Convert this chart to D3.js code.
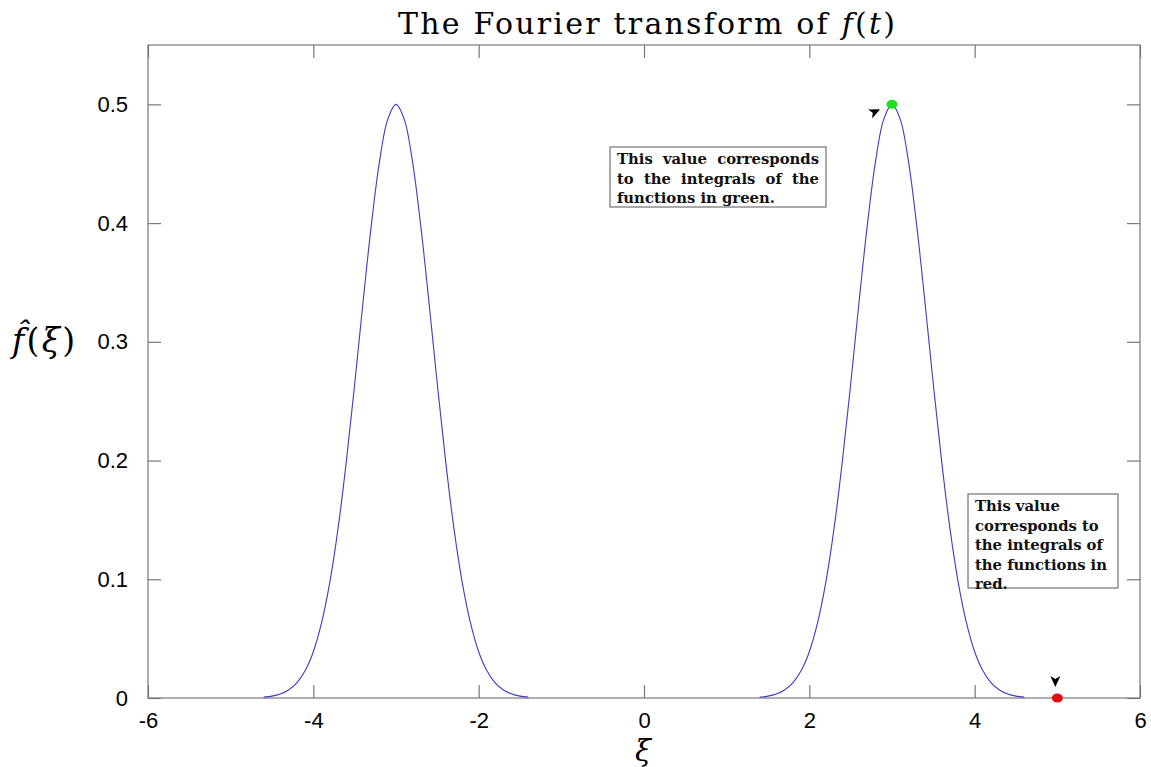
<!DOCTYPE html>
<html>
<head>
<meta charset="UTF-8">
<title>The Fourier transform of f(t)</title>
<script src="https://d3js.org/d3.v7.min.js"></script>
<style>
    body { margin: 0; background: #fff; }
    .tick text { font-family: "Liberation Sans", Arial, sans-serif; font-size: 22px; fill: #000; }
    .serif { font-family: "DejaVu Serif", serif; }
    .note { font-family: "DejaVu Serif", serif; font-size: 14.8px; font-weight: bold; fill: #111; }
</style>
</head>
<body>
<svg width="1151" height="767"></svg>
<script>
// offsets from the peak centre
const offsets = [-1.6, -1.5, -1.4, -1.3, -1.2, -1.1, -1.0, -0.9, -0.8, -0.7, -0.6, -0.5, -0.4, -0.3, -0.2, -0.1,
                 0, 0.1, 0.2, 0.3, 0.4, 0.5, 0.6, 0.7, 0.8, 0.9, 1.0, 1.1, 1.2, 1.3, 1.4, 1.5, 1.6];
const leftXi  = offsets.map(d => -3 + d);
const rightXi = offsets.map(d => 3 + d);
const bumpValues = [0.0007, 0.0016, 0.0034, 0.0067, 0.0127, 0.0229, 0.039, 0.0634, 0.0978, 0.1433, 0.1997, 0.2643, 0.3325, 0.3974, 0.4515, 0.4874,
                    0.5, 0.4874, 0.4515, 0.3974, 0.3325, 0.2643, 0.1997, 0.1433, 0.0978, 0.0634, 0.039, 0.0229, 0.0127, 0.0067, 0.0034, 0.0016, 0.0007];
const xTicks = [-6, -4, -2, 0, 2, 4, 6];
const yTicks = [0, 0.1, 0.2, 0.3, 0.4, 0.5];
const greenPoint = [3, 0.5];
const redPoint = [5, 0];
const note1 = ["This value corresponds", "to the integrals of the", "functions in green."];
const note2 = ["This value", "corresponds to", "the integrals of", "the functions in", "red."];

const svg = d3.select("svg");
const m = { left: 148, right: 1140, top: 45, bottom: 698 };
const x = d3.scaleLinear().domain([-6, 6]).range([m.left, m.right]);
const y = d3.scaleLinear().domain([0, 0.55]).range([m.bottom, m.top]);

// frame
svg.append("rect").attr("x", m.left).attr("y", m.top)
    .attr("width", m.right - m.left).attr("height", m.bottom - m.top)
    .attr("fill", "none").attr("stroke", "#777").attr("stroke-width", 1.2);

const tickLen = 13;
const gx = svg.append("g").attr("transform", `translate(0,${m.bottom})`)
    .call(d3.axisBottom(x).tickValues(xTicks).tickSize(-tickLen).tickPadding(23).tickFormat(d => String(d)));
const gy = svg.append("g").attr("transform", `translate(${m.left},0)`)
    .call(d3.axisLeft(y).tickValues(yTicks).tickSize(-tickLen).tickPadding(20).tickFormat(d => d === 0 ? "0" : d3.format(".1f")(d)));
const gt = svg.append("g").attr("transform", `translate(0,${m.top})`)
    .call(d3.axisTop(x).tickValues(xTicks).tickSize(-tickLen).tickFormat(""));
const gr = svg.append("g").attr("transform", `translate(${m.right},0)`)
    .call(d3.axisRight(y).tickValues(yTicks).tickSize(-tickLen).tickFormat(""));
[gx, gy, gt, gr].forEach(g => {
    g.select(".domain").remove();
    g.selectAll(".tick line").attr("stroke", "#777").attr("stroke-width", 1.2);
});
gx.selectAll(".tick text").attr("dy", "0.3em");

// curves
const line = d3.line().x(d => x(d[0])).y(d => y(d[1])).curve(d3.curveCatmullRom);
[leftXi, rightXi].forEach(xs => {
    svg.append("path")
        .datum(xs.map((v, i) => [v, bumpValues[i]]))
        .attr("fill", "none").attr("stroke", "#3c3cc4").attr("stroke-width", 1.1)
        .attr("d", line);
});

// points
svg.append("ellipse").attr("cx", x(greenPoint[0])).attr("cy", y(greenPoint[1]))
    .attr("rx", 5.5).attr("ry", 4.5).attr("fill", "#1fe01f");
svg.append("ellipse").attr("cx", x(redPoint[0])).attr("cy", y(redPoint[1]))
    .attr("rx", 5.5).attr("ry", 4.5).attr("fill", "#e01010");

// arrowheads
function arrowHead(px, py, angle) {
    svg.append("path")
        .attr("d", "M0,0 L-11,-5 L-8,0 L-11,5 Z")
        .attr("fill", "#000")
        .attr("transform", `translate(${px},${py}) rotate(${angle})`);
}
arrowHead(x(greenPoint[0]) - 12, y(greenPoint[1]) + 5, -25);
arrowHead(x(redPoint[0]) - 2, y(redPoint[1]) - 11, 90);

// note boxes
function noteBox(bx, by, bw, bh, lines, justify) {
    svg.append("rect").attr("x", bx).attr("y", by).attr("width", bw).attr("height", bh)
        .attr("fill", "#fff").attr("stroke", "#555").attr("stroke-width", 1);
    const pad = 7, lh = 19.5;
    lines.forEach((ln, i) => {
        const ty = by + 17 + i * lh;
        if (justify && i < lines.length - 1) {
            const words = ln.split(" ");
            const tmp = words.map(w => svg.append("text").attr("class", "note").text(w));
            const widths = tmp.map(t => t.node().getComputedTextLength());
            const total = d3.sum(widths);
            const gap = (bw - 2 * pad - total) / (words.length - 1);
            let cx = bx + pad;
            tmp.forEach((t, j) => { t.attr("x", cx).attr("y", ty); cx += widths[j] + gap; });
        } else {
            svg.append("text").attr("class", "note").attr("x", bx + pad).attr("y", ty).text(ln);
        }
    });
}
noteBox(610, 147, 216, 60, note1, true);
noteBox(968, 494, 150, 94, note2, false);

// title and axis labels
const title = svg.append("text").attr("class", "serif").attr("x", 398).attr("y", 34)
    .attr("font-size", 30).attr("textLength", 497).attr("lengthAdjust", "spacing");
title.append("tspan").text("The Fourier transform of ");
title.append("tspan").attr("font-style", "italic").text("f");
title.append("tspan").text("(");
title.append("tspan").attr("font-style", "italic").text("t");
title.append("tspan").text(")");

svg.append("text").attr("class", "serif").attr("x", 643).attr("y", 761)
    .attr("text-anchor", "middle").attr("font-size", 29).attr("font-style", "italic").text("ξ");

const yl = svg.append("text").attr("class", "serif").attr("x", 12).attr("y", 352)
    .attr("font-size", 33).attr("textLength", 63).attr("lengthAdjust", "spacing");
yl.append("tspan").attr("font-style", "italic").text("f̂");
yl.append("tspan").text("(");
yl.append("tspan").attr("font-style", "italic").text("ξ");
yl.append("tspan").text(")");
</script>
</body>
</html>
